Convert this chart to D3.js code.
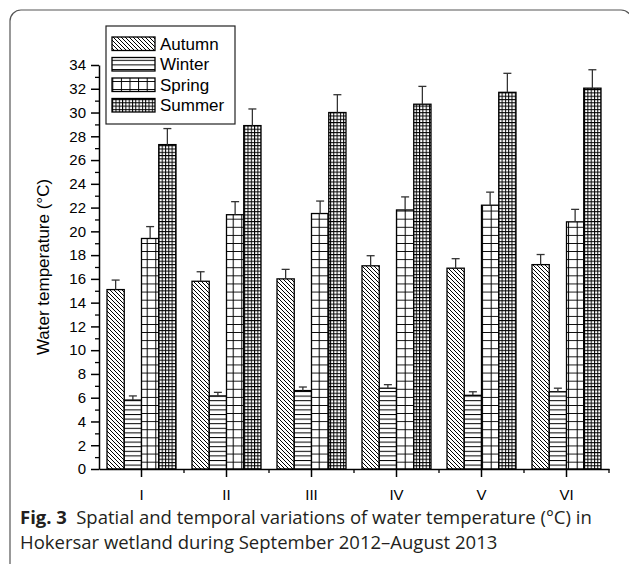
<!DOCTYPE html>
<html><head><meta charset="utf-8">
<script src="https://cdn.jsdelivr.net/npm/d3@7"></script>
<style>
html,body{margin:0;padding:0;background:#fff;}
svg{display:block;}
</style></head>
<body>
<svg id="chart" width="629" height="564"></svg>
<script>
const categories = ["I","II","III","IV","V","VI"];
const seasons = ["Autumn","Winter","Spring","Summer"];
const autumn    = [15.1, 15.8, 16.0, 17.1, 16.9, 17.2];
const autumnErr = [0.8, 0.8, 0.8, 0.85, 0.8, 0.85];
const winter    = [5.8, 6.15, 6.6, 6.8, 6.2, 6.5];
const winterErr = [0.35, 0.3, 0.3, 0.3, 0.3, 0.3];
const spring    = [19.4, 21.4, 21.5, 21.8, 22.2, 20.8];
const springErr = [1.0, 1.1, 1.05, 1.1, 1.1, 1.05];
const summer    = [27.3, 28.9, 30.0, 30.7, 31.7, 32.05];
const summerErr = [1.35, 1.4, 1.5, 1.5, 1.6, 1.55];
const yTicks = d3.range(0, 35, 2);
const yMinor = d3.range(1, 34, 2);
const yTitle = "Water temperature (°C)";
const captionBold = "Fig. 3";
const caption1 = "Spatial and temporal variations of water temperature (°C) in";
const caption2 = "Hokersar wetland during September 2012–August 2013";

const values = [autumn, winter, spring, summer];
const errs = [autumnErr, winterErr, springErr, summerErr];
const patIds = ["pAutumn","pWinter","pSpring","pSummer"];

const svg = d3.select("#chart");
const defs = svg.append("defs");

// Autumn: diagonal "\" lines
let p = defs.append("pattern").attr("id","pAutumn").attr("patternUnits","userSpaceOnUse")
  .attr("width",4).attr("height",4);
p.append("rect").attr("width",4).attr("height",4).attr("fill","#fff");
p.append("path").attr("d","M-1,-1 L5,5 M-1,3 L1,5 M3,-1 L5,1").attr("stroke","#000").attr("stroke-width",1);
// Winter: horizontal lines
p = defs.append("pattern").attr("id","pWinter").attr("patternUnits","userSpaceOnUse")
  .attr("width",8).attr("height",4.6);
p.append("rect").attr("width",8).attr("height",4.6).attr("fill","#fff");
p.append("path").attr("d","M0,0.5 L8,0.5").attr("stroke","#000").attr("stroke-width",1);
// Spring: coarse grid
p = defs.append("pattern").attr("id","pSpring").attr("patternUnits","userSpaceOnUse")
  .attr("width",8.6).attr("height",8.1).attr("x",0.5);
p.append("rect").attr("width",8.6).attr("height",8.1).attr("fill","#fff");
p.append("path").attr("d","M0,0.5 L8.6,0.5 M0.5,0 L0.5,8.1").attr("stroke","#000").attr("stroke-width",1);
// Summer: fine grid
p = defs.append("pattern").attr("id","pSummer").attr("patternUnits","userSpaceOnUse")
  .attr("width",3.3).attr("height",3.3);
p.append("rect").attr("width",3.3).attr("height",3.3).attr("fill","#fff");
p.append("path").attr("d","M0,0.5 L3.3,0.5 M0.5,0 L0.5,3.3").attr("stroke","#000").attr("stroke-width",1);

// Frame
svg.append("rect").attr("x",10).attr("y",10).attr("width",622).attr("height",620)
  .attr("rx",11).attr("fill","none").attr("stroke","#555").attr("stroke-width",1.2);

const x0 = d3.scaleBand().domain(categories).range([99,609]).paddingInner(16/85).paddingOuter(8/85);
const x1 = d3.scaleBand().domain(seasons).range([0, x0.bandwidth()]);
const y = d3.scaleLinear().domain([0,34]).range([469,65]);

const font = "'Liberation Sans', Arial, sans-serif";

// Bars
seasons.forEach((s, si) => {
  const g = svg.append("g");
  g.selectAll("rect").data(categories).join("rect")
    .attr("x", c => x0(c) + x1(s))
    .attr("y", (c,i) => y(values[si][i]))
    .attr("width", x1.bandwidth())
    .attr("height", (c,i) => y(0) - y(values[si][i]))
    .attr("fill", `url(#${patIds[si]})`)
    .attr("stroke","#000").attr("stroke-width",1.3);
  const eg = svg.append("g").attr("stroke","#333").attr("stroke-width",1.3).attr("fill","none");
  categories.forEach((c,i) => {
    const cx = x0(c) + x1(s) + x1.bandwidth()/2;
    const top = y(values[si][i] + errs[si][i]);
    eg.append("line").attr("x1",cx).attr("x2",cx).attr("y1",y(values[si][i])).attr("y2",top);
    eg.append("line").attr("x1",cx-4).attr("x2",cx+4).attr("y1",top).attr("y2",top);
  });
});

// Y axis
const yAxis = svg.append("g").attr("transform","translate(99,0)")
  .call(d3.axisLeft(y).tickValues(yTicks).tickSize(8).tickSizeOuter(0).tickPadding(5).tickFormat(d3.format("d")));
yAxis.select(".domain").attr("stroke","#000").attr("stroke-width",1.5);
yAxis.selectAll(".tick line").attr("stroke","#000").attr("stroke-width",1.5);
yAxis.selectAll(".tick text").attr("font-family",font).attr("font-size",15).attr("fill","#000");
svg.append("g").attr("transform","translate(99,0)")
  .call(d3.axisLeft(y).tickValues(yMinor).tickSize(4).tickFormat(""))
  .call(g => g.select(".domain").remove())
  .selectAll(".tick line").attr("stroke","#000").attr("stroke-width",1.3);

// X axis
const xAxis = svg.append("g").attr("transform",`translate(0,${y(0)})`)
  .call(d3.axisBottom(x0).tickSize(8).tickSizeOuter(0).tickPadding(12));
xAxis.select(".domain").attr("stroke","#000").attr("stroke-width",1.5);
xAxis.selectAll(".tick line").attr("stroke","#000").attr("stroke-width",1.5);
xAxis.selectAll(".tick text").attr("font-family",font).attr("font-size",15).attr("fill","#000");
const boundaries = categories.map(c => x0(c) - 8).slice(1).concat([609]);
svg.append("g").attr("stroke","#000").attr("stroke-width",1.3)
  .selectAll("line").data(boundaries).join("line")
  .attr("x1",d=>d).attr("x2",d=>d).attr("y1",y(0)).attr("y2",y(0)+4);

// Y title
svg.append("text").attr("transform",`translate(49,${(y(0)+y(34))/2}) rotate(-90)`)
  .attr("text-anchor","middle").attr("font-family",font).attr("font-size",17).text(yTitle);

// Legend
const lg = svg.append("g");
lg.append("rect").attr("x",106).attr("y",26).attr("width",129).attr("height",98)
  .attr("fill","#fff").attr("stroke","#222").attr("stroke-width",1.2);
seasons.forEach((s,i) => {
  const yy = 37 + i*20.5;
  lg.append("rect").attr("x",112).attr("y",yy).attr("width",43).attr("height",13.5)
    .attr("fill",`url(#${patIds[i]})`).attr("stroke","#000").attr("stroke-width",1.3);
  lg.append("text").attr("x",160).attr("y",yy+12.5).attr("font-family",font).attr("font-size",17).text(s);
});

// Caption
const cap = svg.append("text").attr("x",20).attr("y",524).attr("font-family","'Open Sans', sans-serif")
  .attr("font-size",18.5).attr("fill","#231f20");
cap.append("tspan").attr("font-weight","bold").text(captionBold);
cap.append("tspan").text("\u2002" + caption1);
svg.append("text").attr("x",20).attr("y",549).attr("font-family","'Open Sans', sans-serif")
  .attr("font-size",18.5).attr("fill","#231f20").text(caption2);
</script>
</body></html>
